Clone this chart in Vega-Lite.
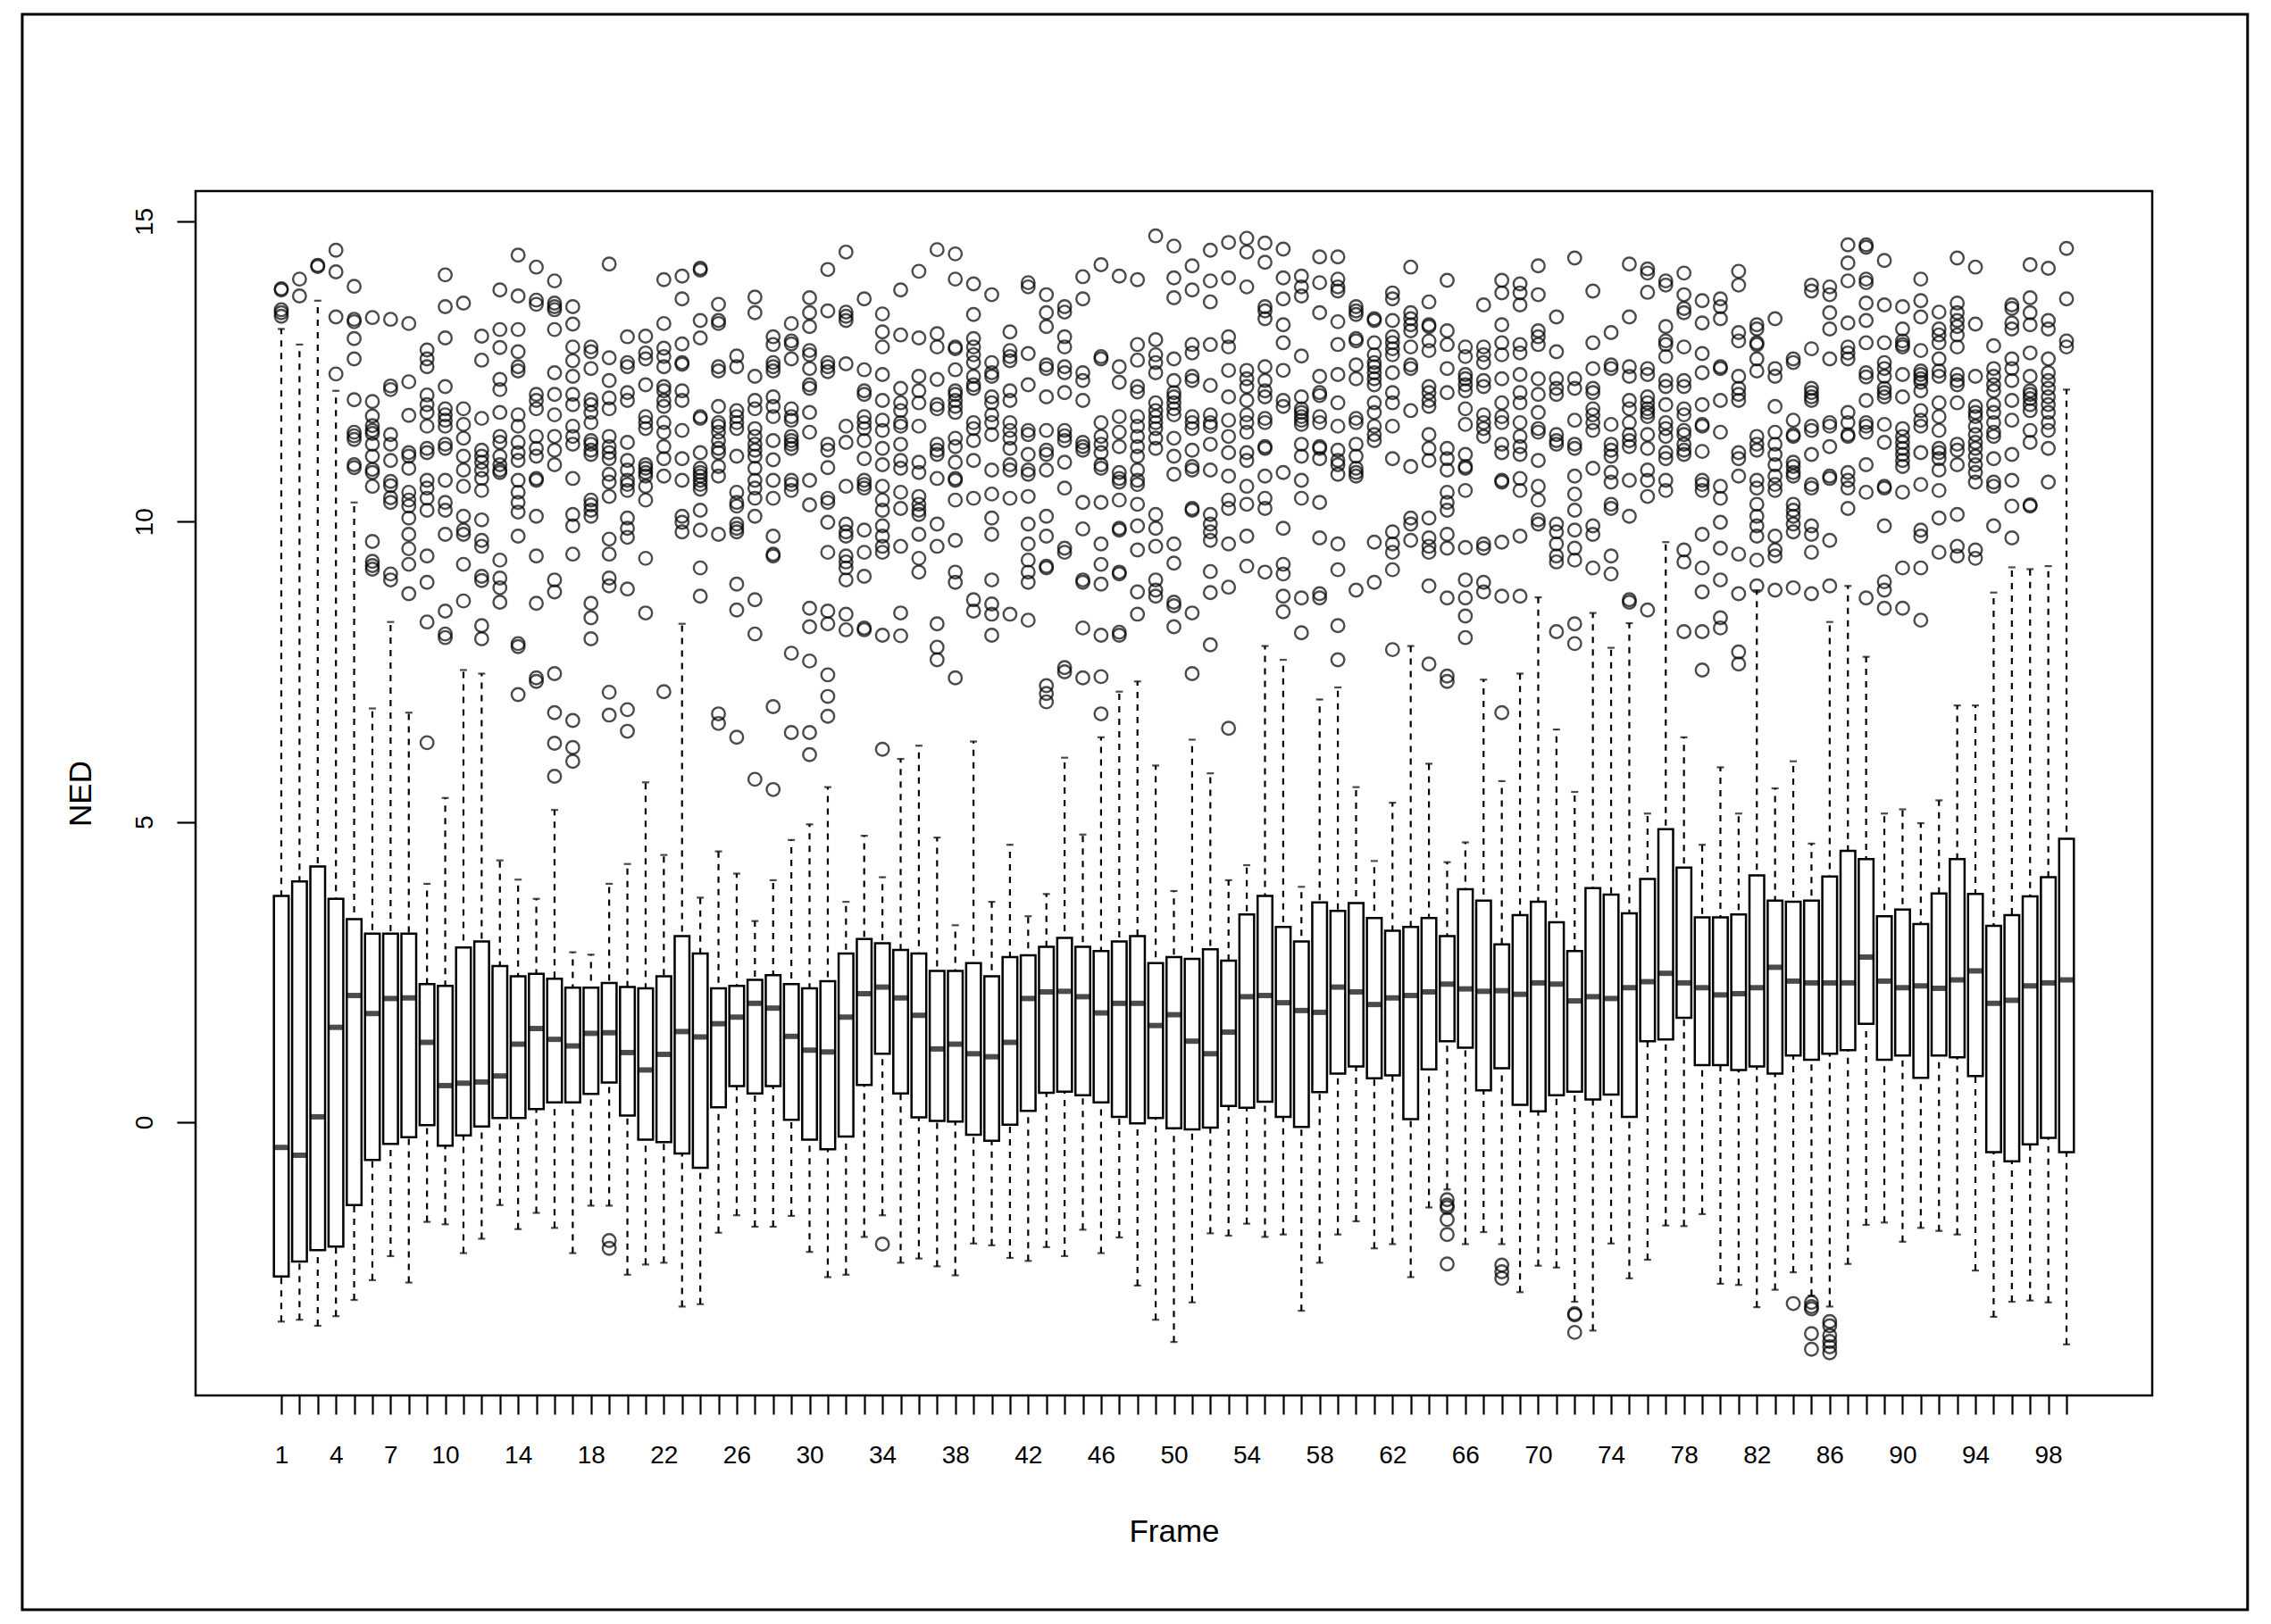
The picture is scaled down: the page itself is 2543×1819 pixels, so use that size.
{
"$schema":"https://vega.github.io/schema/vega-lite/v6.json",
"width":2191,"height":1349,
"autosize":{"type":"none"},
"padding":{"left":219,"top":214,"right":133,"bottom":256},
"background":"white",
"config":{"font":"Liberation Sans","view":{"stroke":"black","strokeWidth":2.5}},
"resolve":{"axis":{"x":"independent"}},
"datasets":{
"boxes":[
{"Frame":1,"lo":-3.32,"q1":-2.57,"med":-0.42,"q3":3.77,"hi":13.21},
{"Frame":2,"lo":-3.29,"q1":-2.32,"med":-0.55,"q3":4.01,"hi":12.95},
{"Frame":3,"lo":-3.39,"q1":-2.13,"med":0.09,"q3":4.26,"hi":13.68},
{"Frame":4,"lo":-3.23,"q1":-2.07,"med":1.58,"q3":3.72,"hi":12.18},
{"Frame":5,"lo":-2.96,"q1":-1.38,"med":2.11,"q3":3.38,"hi":10.32},
{"Frame":6,"lo":-2.63,"q1":-0.63,"med":1.81,"q3":3.14,"hi":6.89},
{"Frame":7,"lo":-2.23,"q1":-0.36,"med":2.06,"q3":3.14,"hi":8.33},
{"Frame":8,"lo":-2.67,"q1":-0.25,"med":2.07,"q3":3.14,"hi":6.82},
{"Frame":9,"lo":-1.66,"q1":-0.05,"med":1.33,"q3":2.30,"hi":3.97},
{"Frame":10,"lo":-1.70,"q1":-0.39,"med":0.61,"q3":2.27,"hi":5.40},
{"Frame":11,"lo":-2.18,"q1":-0.22,"med":0.65,"q3":2.91,"hi":7.53},
{"Frame":12,"lo":-1.94,"q1":-0.07,"med":0.67,"q3":3.01,"hi":7.47},
{"Frame":13,"lo":-1.38,"q1":0.07,"med":0.77,"q3":2.60,"hi":4.36},
{"Frame":14,"lo":-1.78,"q1":0.07,"med":1.30,"q3":2.43,"hi":4.04},
{"Frame":15,"lo":-1.51,"q1":0.22,"med":1.56,"q3":2.47,"hi":3.72},
{"Frame":16,"lo":-1.76,"q1":0.33,"med":1.38,"q3":2.39,"hi":5.20},
{"Frame":17,"lo":-2.18,"q1":0.33,"med":1.27,"q3":2.24,"hi":2.83},
{"Frame":18,"lo":-1.39,"q1":0.47,"med":1.48,"q3":2.24,"hi":2.79},
{"Frame":19,"lo":-1.39,"q1":0.66,"med":1.49,"q3":2.32,"hi":3.97},
{"Frame":20,"lo":-2.54,"q1":0.11,"med":1.16,"q3":2.25,"hi":4.30},
{"Frame":21,"lo":-2.37,"q1":-0.29,"med":0.87,"q3":2.23,"hi":5.66},
{"Frame":22,"lo":-2.34,"q1":-0.33,"med":1.13,"q3":2.43,"hi":4.45},
{"Frame":23,"lo":-3.07,"q1":-0.52,"med":1.51,"q3":3.10,"hi":8.30},
{"Frame":24,"lo":-3.03,"q1":-0.76,"med":1.42,"q3":2.81,"hi":3.74},
{"Frame":25,"lo":-1.84,"q1":0.25,"med":1.64,"q3":2.23,"hi":4.51},
{"Frame":26,"lo":-1.55,"q1":0.60,"med":1.75,"q3":2.27,"hi":4.14},
{"Frame":27,"lo":-1.74,"q1":0.48,"med":1.98,"q3":2.37,"hi":3.35},
{"Frame":28,"lo":-1.74,"q1":0.60,"med":1.90,"q3":2.45,"hi":4.03},
{"Frame":29,"lo":-1.56,"q1":0.04,"med":1.43,"q3":2.30,"hi":4.70},
{"Frame":30,"lo":-2.16,"q1":-0.29,"med":1.20,"q3":2.23,"hi":4.96},
{"Frame":31,"lo":-2.58,"q1":-0.45,"med":1.17,"q3":2.35,"hi":5.58},
{"Frame":32,"lo":-2.54,"q1":-0.24,"med":1.75,"q3":2.81,"hi":3.67},
{"Frame":33,"lo":-1.91,"q1":0.62,"med":2.14,"q3":3.05,"hi":4.77},
{"Frame":34,"lo":-1.55,"q1":1.14,"med":2.25,"q3":2.98,"hi":4.08},
{"Frame":35,"lo":-2.34,"q1":0.48,"med":2.07,"q3":2.87,"hi":6.05},
{"Frame":36,"lo":-2.27,"q1":0.08,"med":1.78,"q3":2.81,"hi":6.27},
{"Frame":37,"lo":-2.40,"q1":0.02,"med":1.22,"q3":2.52,"hi":4.74},
{"Frame":38,"lo":-2.55,"q1":0.01,"med":1.30,"q3":2.52,"hi":3.28},
{"Frame":39,"lo":-2.02,"q1":-0.21,"med":1.14,"q3":2.65,"hi":6.34},
{"Frame":40,"lo":-2.05,"q1":-0.31,"med":1.09,"q3":2.43,"hi":3.67},
{"Frame":41,"lo":-2.26,"q1":-0.04,"med":1.33,"q3":2.75,"hi":4.62},
{"Frame":42,"lo":-2.31,"q1":0.19,"med":2.06,"q3":2.78,"hi":3.43},
{"Frame":43,"lo":-2.08,"q1":0.49,"med":2.17,"q3":2.92,"hi":3.80},
{"Frame":44,"lo":-2.23,"q1":0.51,"med":2.18,"q3":3.07,"hi":6.07},
{"Frame":45,"lo":-1.79,"q1":0.45,"med":2.09,"q3":2.92,"hi":4.79},
{"Frame":46,"lo":-2.18,"q1":0.33,"med":1.82,"q3":2.85,"hi":6.41},
{"Frame":47,"lo":-1.92,"q1":0.09,"med":1.98,"q3":3.01,"hi":7.17},
{"Frame":48,"lo":-2.72,"q1":-0.02,"med":1.98,"q3":3.10,"hi":7.34},
{"Frame":49,"lo":-3.29,"q1":0.07,"med":1.61,"q3":2.65,"hi":5.94},
{"Frame":50,"lo":-3.66,"q1":-0.10,"med":1.79,"q3":2.75,"hi":3.85},
{"Frame":51,"lo":-3.00,"q1":-0.12,"med":1.35,"q3":2.72,"hi":6.37},
{"Frame":52,"lo":-1.85,"q1":-0.09,"med":1.14,"q3":2.88,"hi":5.81},
{"Frame":53,"lo":-1.89,"q1":0.27,"med":1.50,"q3":2.69,"hi":4.03},
{"Frame":54,"lo":-1.69,"q1":0.24,"med":2.09,"q3":3.46,"hi":4.28},
{"Frame":55,"lo":-1.91,"q1":0.34,"med":2.11,"q3":3.77,"hi":7.93},
{"Frame":56,"lo":-1.87,"q1":0.09,"med":1.99,"q3":3.25,"hi":7.70},
{"Frame":57,"lo":-3.14,"q1":-0.08,"med":1.86,"q3":3.01,"hi":3.92},
{"Frame":58,"lo":-2.34,"q1":0.50,"med":1.83,"q3":3.66,"hi":7.04},
{"Frame":59,"lo":-1.87,"q1":0.81,"med":2.25,"q3":3.52,"hi":7.24},
{"Frame":60,"lo":-1.65,"q1":0.93,"med":2.17,"q3":3.65,"hi":5.58},
{"Frame":61,"lo":-2.10,"q1":0.73,"med":1.96,"q3":3.40,"hi":4.35},
{"Frame":62,"lo":-2.03,"q1":0.78,"med":2.07,"q3":3.19,"hi":5.32},
{"Frame":63,"lo":-2.58,"q1":0.05,"med":2.11,"q3":3.25,"hi":7.93},
{"Frame":64,"lo":-1.42,"q1":0.88,"med":2.17,"q3":3.40,"hi":5.97},
{"Frame":65,"lo":-1.12,"q1":1.35,"med":2.30,"q3":3.10,"hi":4.33},
{"Frame":66,"lo":-2.03,"q1":1.24,"med":2.22,"q3":3.88,"hi":4.66},
{"Frame":67,"lo":-1.83,"q1":0.53,"med":2.18,"q3":3.69,"hi":7.37},
{"Frame":68,"lo":-2.03,"q1":0.90,"med":2.19,"q3":2.96,"hi":5.68},
{"Frame":69,"lo":-2.83,"q1":0.29,"med":2.13,"q3":3.45,"hi":7.47},
{"Frame":70,"lo":-2.39,"q1":0.18,"med":2.32,"q3":3.67,"hi":8.74},
{"Frame":71,"lo":-2.42,"q1":0.45,"med":2.30,"q3":3.33,"hi":6.54},
{"Frame":72,"lo":-2.99,"q1":0.51,"med":2.02,"q3":2.85,"hi":5.50},
{"Frame":73,"lo":-3.47,"q1":0.38,"med":2.09,"q3":3.90,"hi":8.48},
{"Frame":74,"lo":-2.02,"q1":0.46,"med":2.06,"q3":3.79,"hi":7.90},
{"Frame":75,"lo":-2.60,"q1":0.09,"med":2.24,"q3":3.48,"hi":8.31},
{"Frame":76,"lo":-2.29,"q1":1.35,"med":2.34,"q3":4.05,"hi":5.14},
{"Frame":77,"lo":-1.72,"q1":1.38,"med":2.48,"q3":4.88,"hi":9.66},
{"Frame":78,"lo":-1.73,"q1":1.74,"med":2.32,"q3":4.24,"hi":6.41},
{"Frame":79,"lo":-1.53,"q1":0.95,"med":2.24,"q3":3.41,"hi":4.62},
{"Frame":80,"lo":-2.69,"q1":0.95,"med":2.12,"q3":3.41,"hi":5.91},
{"Frame":81,"lo":-2.71,"q1":0.87,"med":2.14,"q3":3.46,"hi":5.14},
{"Frame":82,"lo":-3.08,"q1":0.93,"med":2.24,"q3":4.11,"hi":8.86},
{"Frame":83,"lo":-2.79,"q1":0.81,"med":2.58,"q3":3.69,"hi":5.56},
{"Frame":84,"lo":-2.50,"q1":1.11,"med":2.35,"q3":3.67,"hi":6.01},
{"Frame":85,"lo":-2.89,"q1":1.04,"med":2.32,"q3":3.69,"hi":4.64},
{"Frame":86,"lo":-3.07,"q1":1.14,"med":2.32,"q3":4.09,"hi":8.33},
{"Frame":87,"lo":-2.36,"q1":1.20,"med":2.32,"q3":4.52,"hi":8.93},
{"Frame":88,"lo":-1.71,"q1":1.64,"med":2.75,"q3":4.38,"hi":7.75},
{"Frame":89,"lo":-1.67,"q1":1.04,"med":2.35,"q3":3.43,"hi":5.14},
{"Frame":90,"lo":-1.99,"q1":1.11,"med":2.24,"q3":3.54,"hi":5.21},
{"Frame":91,"lo":-1.76,"q1":0.74,"med":2.27,"q3":3.30,"hi":4.98},
{"Frame":92,"lo":-1.81,"q1":1.11,"med":2.23,"q3":3.81,"hi":5.36},
{"Frame":93,"lo":-1.87,"q1":1.08,"med":2.37,"q3":4.38,"hi":6.94},
{"Frame":94,"lo":-2.47,"q1":0.77,"med":2.52,"q3":3.80,"hi":6.94},
{"Frame":95,"lo":-3.24,"q1":-0.50,"med":1.98,"q3":3.27,"hi":8.82},
{"Frame":96,"lo":-2.99,"q1":-0.65,"med":2.03,"q3":3.45,"hi":9.24},
{"Frame":97,"lo":-2.97,"q1":-0.37,"med":2.27,"q3":3.76,"hi":9.21},
{"Frame":98,"lo":-3.00,"q1":-0.26,"med":2.32,"q3":4.08,"hi":9.26},
{"Frame":99,"lo":-3.70,"q1":-0.50,"med":2.37,"q3":4.72,"hi":12.20}
],
"outliers":[
{"Frame":1,"NED":13.88},{"Frame":1,"NED":13.86},{"Frame":1,"NED":13.53},{"Frame":1,"NED":13.48},{"Frame":1,"NED":13.42},
{"Frame":2,"NED":14.04},{"Frame":2,"NED":13.76},
{"Frame":3,"NED":14.27},{"Frame":3,"NED":14.25},
{"Frame":4,"NED":14.52},{"Frame":4,"NED":14.16},{"Frame":4,"NED":13.41},{"Frame":4,"NED":12.46},
{"Frame":5,"NED":13.92},{"Frame":5,"NED":13.37},{"Frame":5,"NED":13.33},{"Frame":5,"NED":13.05},{"Frame":5,"NED":12.71},{"Frame":5,"NED":12.03},{"Frame":5,"NED":11.49},{"Frame":5,"NED":11.43},{"Frame":5,"NED":11.37},{"Frame":5,"NED":10.95},{"Frame":5,"NED":10.90},
{"Frame":6,"NED":13.40},{"Frame":6,"NED":12.00},{"Frame":6,"NED":11.76},{"Frame":6,"NED":11.60},{"Frame":6,"NED":11.52},{"Frame":6,"NED":11.47},{"Frame":6,"NED":11.29},{"Frame":6,"NED":11.09},{"Frame":6,"NED":10.87},{"Frame":6,"NED":10.82},{"Frame":6,"NED":10.59},{"Frame":6,"NED":9.67},{"Frame":6,"NED":9.34},{"Frame":6,"NED":9.27},{"Frame":6,"NED":9.21},
{"Frame":7,"NED":13.37},{"Frame":7,"NED":12.26},{"Frame":7,"NED":12.20},{"Frame":7,"NED":11.45},{"Frame":7,"NED":11.29},{"Frame":7,"NED":11.02},{"Frame":7,"NED":10.67},{"Frame":7,"NED":10.60},{"Frame":7,"NED":10.40},{"Frame":7,"NED":10.32},{"Frame":7,"NED":9.13},{"Frame":7,"NED":9.03},
{"Frame":8,"NED":13.30},{"Frame":8,"NED":12.33},{"Frame":8,"NED":11.77},{"Frame":8,"NED":11.15},{"Frame":8,"NED":11.09},{"Frame":8,"NED":10.89},{"Frame":8,"NED":10.49},{"Frame":8,"NED":10.36},{"Frame":8,"NED":10.26},{"Frame":8,"NED":10.06},{"Frame":8,"NED":9.79},{"Frame":8,"NED":9.55},{"Frame":8,"NED":9.29},{"Frame":8,"NED":8.80},
{"Frame":9,"NED":12.86},{"Frame":9,"NED":12.71},{"Frame":9,"NED":12.58},{"Frame":9,"NED":12.11},{"Frame":9,"NED":11.95},{"Frame":9,"NED":11.82},{"Frame":9,"NED":11.59},{"Frame":9,"NED":11.22},{"Frame":9,"NED":11.15},{"Frame":9,"NED":10.69},{"Frame":9,"NED":10.56},{"Frame":9,"NED":10.39},{"Frame":9,"NED":10.19},{"Frame":9,"NED":9.43},{"Frame":9,"NED":8.99},{"Frame":9,"NED":8.33},{"Frame":9,"NED":6.32},
{"Frame":10,"NED":14.11},{"Frame":10,"NED":13.58},{"Frame":10,"NED":13.06},{"Frame":10,"NED":12.25},{"Frame":10,"NED":11.88},{"Frame":10,"NED":11.78},{"Frame":10,"NED":11.69},{"Frame":10,"NED":11.59},{"Frame":10,"NED":11.29},{"Frame":10,"NED":11.22},{"Frame":10,"NED":10.69},{"Frame":10,"NED":10.32},{"Frame":10,"NED":10.19},{"Frame":10,"NED":9.79},{"Frame":10,"NED":8.51},{"Frame":10,"NED":8.13},{"Frame":10,"NED":8.07},
{"Frame":11,"NED":13.64},{"Frame":11,"NED":11.88},{"Frame":11,"NED":11.62},{"Frame":11,"NED":11.39},{"Frame":11,"NED":11.09},{"Frame":11,"NED":10.86},{"Frame":11,"NED":10.59},{"Frame":11,"NED":10.09},{"Frame":11,"NED":9.86},{"Frame":11,"NED":9.79},{"Frame":11,"NED":9.29},{"Frame":11,"NED":8.68},
{"Frame":12,"NED":13.09},{"Frame":12,"NED":12.69},{"Frame":12,"NED":11.72},{"Frame":12,"NED":11.19},{"Frame":12,"NED":11.09},{"Frame":12,"NED":10.99},{"Frame":12,"NED":10.86},{"Frame":12,"NED":10.72},{"Frame":12,"NED":10.52},{"Frame":12,"NED":10.03},{"Frame":12,"NED":9.69},{"Frame":12,"NED":9.59},{"Frame":12,"NED":9.09},{"Frame":12,"NED":9.02},{"Frame":12,"NED":8.27},{"Frame":12,"NED":8.05},
{"Frame":13,"NED":13.86},{"Frame":13,"NED":13.20},{"Frame":13,"NED":12.90},{"Frame":13,"NED":12.37},{"Frame":13,"NED":12.20},{"Frame":13,"NED":11.82},{"Frame":13,"NED":11.42},{"Frame":13,"NED":11.32},{"Frame":13,"NED":11.09},{"Frame":13,"NED":10.95},{"Frame":13,"NED":10.86},{"Frame":13,"NED":10.82},{"Frame":13,"NED":9.36},{"Frame":13,"NED":9.06},{"Frame":13,"NED":8.90},{"Frame":13,"NED":8.66},
{"Frame":14,"NED":14.44},{"Frame":14,"NED":13.76},{"Frame":14,"NED":13.20},{"Frame":14,"NED":12.83},{"Frame":14,"NED":12.58},{"Frame":14,"NED":12.51},{"Frame":14,"NED":11.78},{"Frame":14,"NED":11.59},{"Frame":14,"NED":11.32},{"Frame":14,"NED":11.15},{"Frame":14,"NED":11.02},{"Frame":14,"NED":10.69},{"Frame":14,"NED":10.49},{"Frame":14,"NED":10.32},{"Frame":14,"NED":10.16},{"Frame":14,"NED":9.76},{"Frame":14,"NED":7.97},{"Frame":14,"NED":7.92},{"Frame":14,"NED":7.12},
{"Frame":15,"NED":14.24},{"Frame":15,"NED":13.69},{"Frame":15,"NED":13.62},{"Frame":15,"NED":12.12},{"Frame":15,"NED":12.02},{"Frame":15,"NED":11.88},{"Frame":15,"NED":11.42},{"Frame":15,"NED":11.22},{"Frame":15,"NED":11.09},{"Frame":15,"NED":10.72},{"Frame":15,"NED":10.69},{"Frame":15,"NED":10.09},{"Frame":15,"NED":9.43},{"Frame":15,"NED":8.64},{"Frame":15,"NED":7.40},{"Frame":15,"NED":7.34},
{"Frame":16,"NED":14.01},{"Frame":16,"NED":13.64},{"Frame":16,"NED":13.58},{"Frame":16,"NED":13.53},{"Frame":16,"NED":13.20},{"Frame":16,"NED":12.48},{"Frame":16,"NED":12.12},{"Frame":16,"NED":11.78},{"Frame":16,"NED":11.42},{"Frame":16,"NED":11.19},{"Frame":16,"NED":10.95},{"Frame":16,"NED":9.03},{"Frame":16,"NED":8.83},{"Frame":16,"NED":7.47},{"Frame":16,"NED":6.82},{"Frame":16,"NED":6.31},{"Frame":16,"NED":5.76},
{"Frame":17,"NED":13.58},{"Frame":17,"NED":13.29},{"Frame":17,"NED":12.91},{"Frame":17,"NED":12.68},{"Frame":17,"NED":12.42},{"Frame":17,"NED":12.12},{"Frame":17,"NED":11.95},{"Frame":17,"NED":11.59},{"Frame":17,"NED":11.42},{"Frame":17,"NED":11.29},{"Frame":17,"NED":10.72},{"Frame":17,"NED":10.12},{"Frame":17,"NED":9.93},{"Frame":17,"NED":9.46},{"Frame":17,"NED":6.69},{"Frame":17,"NED":6.24},{"Frame":17,"NED":6.01},
{"Frame":18,"NED":12.91},{"Frame":18,"NED":12.83},{"Frame":18,"NED":12.55},{"Frame":18,"NED":12.03},{"Frame":18,"NED":11.95},{"Frame":18,"NED":11.82},{"Frame":18,"NED":11.65},{"Frame":18,"NED":11.35},{"Frame":18,"NED":11.29},{"Frame":18,"NED":11.19},{"Frame":18,"NED":11.12},{"Frame":18,"NED":10.36},{"Frame":18,"NED":10.28},{"Frame":18,"NED":10.19},{"Frame":18,"NED":10.09},{"Frame":18,"NED":8.64},{"Frame":18,"NED":8.40},{"Frame":18,"NED":8.05},
{"Frame":19,"NED":14.29},{"Frame":19,"NED":12.73},{"Frame":19,"NED":12.35},{"Frame":19,"NED":12.06},{"Frame":19,"NED":11.88},{"Frame":19,"NED":11.42},{"Frame":19,"NED":11.25},{"Frame":19,"NED":11.15},{"Frame":19,"NED":11.05},{"Frame":19,"NED":10.79},{"Frame":19,"NED":10.66},{"Frame":19,"NED":10.42},{"Frame":19,"NED":9.71},{"Frame":19,"NED":9.46},{"Frame":19,"NED":9.06},{"Frame":19,"NED":8.93},{"Frame":19,"NED":7.16},{"Frame":19,"NED":6.78},{"Frame":19,"NED":-1.97},{"Frame":19,"NED":-2.10},
{"Frame":20,"NED":13.08},{"Frame":20,"NED":12.65},{"Frame":20,"NED":12.58},{"Frame":20,"NED":12.15},{"Frame":20,"NED":12.02},{"Frame":20,"NED":11.32},{"Frame":20,"NED":11.02},{"Frame":20,"NED":10.86},{"Frame":20,"NED":10.69},{"Frame":20,"NED":10.62},{"Frame":20,"NED":10.52},{"Frame":20,"NED":10.06},{"Frame":20,"NED":9.89},{"Frame":20,"NED":9.74},{"Frame":20,"NED":8.88},{"Frame":20,"NED":6.87},{"Frame":20,"NED":6.51},
{"Frame":21,"NED":13.09},{"Frame":21,"NED":12.81},{"Frame":21,"NED":12.71},{"Frame":21,"NED":12.28},{"Frame":21,"NED":11.75},{"Frame":21,"NED":11.65},{"Frame":21,"NED":11.55},{"Frame":21,"NED":10.95},{"Frame":21,"NED":10.89},{"Frame":21,"NED":10.82},{"Frame":21,"NED":10.76},{"Frame":21,"NED":10.59},{"Frame":21,"NED":10.36},{"Frame":21,"NED":9.39},{"Frame":21,"NED":8.48},
{"Frame":22,"NED":14.03},{"Frame":22,"NED":13.30},{"Frame":22,"NED":12.89},{"Frame":22,"NED":12.75},{"Frame":22,"NED":12.58},{"Frame":22,"NED":12.25},{"Frame":22,"NED":12.18},{"Frame":22,"NED":12.02},{"Frame":22,"NED":11.92},{"Frame":22,"NED":11.65},{"Frame":22,"NED":11.49},{"Frame":22,"NED":11.25},{"Frame":22,"NED":11.05},{"Frame":22,"NED":10.76},{"Frame":22,"NED":7.17},
{"Frame":23,"NED":14.09},{"Frame":23,"NED":13.71},{"Frame":23,"NED":12.96},{"Frame":23,"NED":12.65},{"Frame":23,"NED":12.62},{"Frame":23,"NED":12.18},{"Frame":23,"NED":12.02},{"Frame":23,"NED":11.52},{"Frame":23,"NED":11.05},{"Frame":23,"NED":10.69},{"Frame":23,"NED":10.09},{"Frame":23,"NED":9.99},{"Frame":23,"NED":9.83},
{"Frame":24,"NED":14.22},{"Frame":24,"NED":14.19},{"Frame":24,"NED":13.35},{"Frame":24,"NED":13.06},{"Frame":24,"NED":11.75},{"Frame":24,"NED":11.72},{"Frame":24,"NED":11.15},{"Frame":24,"NED":10.89},{"Frame":24,"NED":10.82},{"Frame":24,"NED":10.76},{"Frame":24,"NED":10.69},{"Frame":24,"NED":10.62},{"Frame":24,"NED":10.54},{"Frame":24,"NED":10.19},{"Frame":24,"NED":9.86},{"Frame":24,"NED":9.23},{"Frame":24,"NED":8.76},
{"Frame":25,"NED":13.62},{"Frame":25,"NED":13.35},{"Frame":25,"NED":13.30},{"Frame":25,"NED":12.58},{"Frame":25,"NED":12.51},{"Frame":25,"NED":11.92},{"Frame":25,"NED":11.65},{"Frame":25,"NED":11.59},{"Frame":25,"NED":11.49},{"Frame":25,"NED":11.35},{"Frame":25,"NED":11.22},{"Frame":25,"NED":11.15},{"Frame":25,"NED":10.92},{"Frame":25,"NED":10.76},{"Frame":25,"NED":9.79},{"Frame":25,"NED":6.80},{"Frame":25,"NED":6.64},
{"Frame":26,"NED":12.76},{"Frame":26,"NED":12.58},{"Frame":26,"NED":11.85},{"Frame":26,"NED":11.75},{"Frame":26,"NED":11.65},{"Frame":26,"NED":11.55},{"Frame":26,"NED":11.09},{"Frame":26,"NED":10.49},{"Frame":26,"NED":10.32},{"Frame":26,"NED":10.26},{"Frame":26,"NED":9.96},{"Frame":26,"NED":9.89},{"Frame":26,"NED":9.83},{"Frame":26,"NED":8.96},{"Frame":26,"NED":8.53},{"Frame":26,"NED":6.41},
{"Frame":27,"NED":13.74},{"Frame":27,"NED":13.48},{"Frame":27,"NED":12.42},{"Frame":27,"NED":12.02},{"Frame":27,"NED":11.88},{"Frame":27,"NED":11.55},{"Frame":27,"NED":11.42},{"Frame":27,"NED":11.29},{"Frame":27,"NED":11.19},{"Frame":27,"NED":11.09},{"Frame":27,"NED":10.89},{"Frame":27,"NED":10.69},{"Frame":27,"NED":10.56},{"Frame":27,"NED":10.39},{"Frame":27,"NED":10.09},{"Frame":27,"NED":8.70},{"Frame":27,"NED":8.13},{"Frame":27,"NED":5.71},
{"Frame":28,"NED":13.08},{"Frame":28,"NED":12.95},{"Frame":28,"NED":12.65},{"Frame":28,"NED":12.58},{"Frame":28,"NED":12.51},{"Frame":28,"NED":12.08},{"Frame":28,"NED":11.92},{"Frame":28,"NED":11.75},{"Frame":28,"NED":11.35},{"Frame":28,"NED":11.03},{"Frame":28,"NED":10.69},{"Frame":28,"NED":10.39},{"Frame":28,"NED":9.76},{"Frame":28,"NED":9.46},{"Frame":28,"NED":9.43},{"Frame":28,"NED":6.92},{"Frame":28,"NED":5.54},
{"Frame":29,"NED":13.30},{"Frame":29,"NED":13.01},{"Frame":29,"NED":12.96},{"Frame":29,"NED":12.71},{"Frame":29,"NED":11.88},{"Frame":29,"NED":11.75},{"Frame":29,"NED":11.69},{"Frame":29,"NED":11.42},{"Frame":29,"NED":11.35},{"Frame":29,"NED":11.29},{"Frame":29,"NED":11.22},{"Frame":29,"NED":10.69},{"Frame":29,"NED":10.62},{"Frame":29,"NED":10.52},{"Frame":29,"NED":7.81},{"Frame":29,"NED":6.49},
{"Frame":30,"NED":13.73},{"Frame":30,"NED":13.48},{"Frame":30,"NED":13.25},{"Frame":30,"NED":12.85},{"Frame":30,"NED":12.78},{"Frame":30,"NED":12.55},{"Frame":30,"NED":12.28},{"Frame":30,"NED":12.22},{"Frame":30,"NED":11.82},{"Frame":30,"NED":11.49},{"Frame":30,"NED":10.69},{"Frame":30,"NED":10.28},{"Frame":30,"NED":8.56},{"Frame":30,"NED":8.25},{"Frame":30,"NED":7.68},{"Frame":30,"NED":6.49},{"Frame":30,"NED":6.12},
{"Frame":31,"NED":14.20},{"Frame":31,"NED":13.51},{"Frame":31,"NED":12.65},{"Frame":31,"NED":12.58},{"Frame":31,"NED":12.50},{"Frame":31,"NED":11.29},{"Frame":31,"NED":11.19},{"Frame":31,"NED":10.90},{"Frame":31,"NED":10.39},{"Frame":31,"NED":10.32},{"Frame":31,"NED":9.99},{"Frame":31,"NED":9.49},{"Frame":31,"NED":8.51},{"Frame":31,"NED":8.30},{"Frame":31,"NED":7.45},{"Frame":31,"NED":7.09},{"Frame":31,"NED":6.76},
{"Frame":32,"NED":14.49},{"Frame":32,"NED":13.49},{"Frame":32,"NED":13.42},{"Frame":32,"NED":13.35},{"Frame":32,"NED":12.63},{"Frame":32,"NED":11.59},{"Frame":32,"NED":11.32},{"Frame":32,"NED":10.59},{"Frame":32,"NED":9.96},{"Frame":32,"NED":9.83},{"Frame":32,"NED":9.76},{"Frame":32,"NED":9.43},{"Frame":32,"NED":9.33},{"Frame":32,"NED":9.23},{"Frame":32,"NED":9.03},{"Frame":32,"NED":8.46},{"Frame":32,"NED":8.20},
{"Frame":33,"NED":13.71},{"Frame":33,"NED":12.53},{"Frame":33,"NED":12.18},{"Frame":33,"NED":12.12},{"Frame":33,"NED":11.75},{"Frame":33,"NED":11.65},{"Frame":33,"NED":11.55},{"Frame":33,"NED":11.35},{"Frame":33,"NED":11.05},{"Frame":33,"NED":10.69},{"Frame":33,"NED":10.62},{"Frame":33,"NED":10.56},{"Frame":33,"NED":9.86},{"Frame":33,"NED":9.49},{"Frame":33,"NED":9.09},{"Frame":33,"NED":8.23},{"Frame":33,"NED":8.20},
{"Frame":34,"NED":13.46},{"Frame":34,"NED":13.16},{"Frame":34,"NED":12.91},{"Frame":34,"NED":12.45},{"Frame":34,"NED":12.02},{"Frame":34,"NED":11.69},{"Frame":34,"NED":11.52},{"Frame":34,"NED":11.22},{"Frame":34,"NED":10.95},{"Frame":34,"NED":10.59},{"Frame":34,"NED":10.36},{"Frame":34,"NED":10.19},{"Frame":34,"NED":9.93},{"Frame":34,"NED":9.76},{"Frame":34,"NED":9.59},{"Frame":34,"NED":9.49},{"Frame":34,"NED":8.11},{"Frame":34,"NED":6.21},{"Frame":34,"NED":-2.03},
{"Frame":35,"NED":13.86},{"Frame":35,"NED":13.11},{"Frame":35,"NED":12.22},{"Frame":35,"NED":11.98},{"Frame":35,"NED":11.85},{"Frame":35,"NED":11.65},{"Frame":35,"NED":11.59},{"Frame":35,"NED":11.29},{"Frame":35,"NED":11.02},{"Frame":35,"NED":10.89},{"Frame":35,"NED":10.49},{"Frame":35,"NED":10.22},{"Frame":35,"NED":9.59},{"Frame":35,"NED":8.48},{"Frame":35,"NED":8.10},
{"Frame":36,"NED":14.17},{"Frame":36,"NED":13.06},{"Frame":36,"NED":12.42},{"Frame":36,"NED":12.18},{"Frame":36,"NED":11.98},{"Frame":36,"NED":11.59},{"Frame":36,"NED":10.99},{"Frame":36,"NED":10.82},{"Frame":36,"NED":10.42},{"Frame":36,"NED":10.29},{"Frame":36,"NED":10.19},{"Frame":36,"NED":10.12},{"Frame":36,"NED":9.79},{"Frame":36,"NED":9.39},{"Frame":36,"NED":9.16},
{"Frame":37,"NED":14.53},{"Frame":37,"NED":13.13},{"Frame":37,"NED":12.91},{"Frame":37,"NED":12.37},{"Frame":37,"NED":11.95},{"Frame":37,"NED":11.88},{"Frame":37,"NED":11.29},{"Frame":37,"NED":11.19},{"Frame":37,"NED":11.12},{"Frame":37,"NED":10.72},{"Frame":37,"NED":9.96},{"Frame":37,"NED":9.59},{"Frame":37,"NED":8.30},{"Frame":37,"NED":7.91},{"Frame":37,"NED":7.70},
{"Frame":38,"NED":14.46},{"Frame":38,"NED":14.04},{"Frame":38,"NED":12.91},{"Frame":38,"NED":12.88},{"Frame":38,"NED":12.53},{"Frame":38,"NED":12.18},{"Frame":38,"NED":12.12},{"Frame":38,"NED":12.02},{"Frame":38,"NED":11.92},{"Frame":38,"NED":11.82},{"Frame":38,"NED":11.39},{"Frame":38,"NED":11.25},{"Frame":38,"NED":10.99},{"Frame":38,"NED":10.72},{"Frame":38,"NED":10.69},{"Frame":38,"NED":10.36},{"Frame":38,"NED":9.69},{"Frame":38,"NED":9.16},{"Frame":38,"NED":8.99},{"Frame":38,"NED":7.40},
{"Frame":39,"NED":13.96},{"Frame":39,"NED":13.45},{"Frame":39,"NED":13.05},{"Frame":39,"NED":12.91},{"Frame":39,"NED":12.78},{"Frame":39,"NED":12.65},{"Frame":39,"NED":12.42},{"Frame":39,"NED":12.28},{"Frame":39,"NED":12.22},{"Frame":39,"NED":11.65},{"Frame":39,"NED":11.55},{"Frame":39,"NED":11.35},{"Frame":39,"NED":11.02},{"Frame":39,"NED":10.39},{"Frame":39,"NED":8.70},{"Frame":39,"NED":8.51},
{"Frame":40,"NED":13.78},{"Frame":40,"NED":12.65},{"Frame":40,"NED":12.48},{"Frame":40,"NED":12.42},{"Frame":40,"NED":12.08},{"Frame":40,"NED":11.98},{"Frame":40,"NED":11.78},{"Frame":40,"NED":11.65},{"Frame":40,"NED":11.45},{"Frame":40,"NED":10.86},{"Frame":40,"NED":10.46},{"Frame":40,"NED":10.06},{"Frame":40,"NED":9.79},{"Frame":40,"NED":9.03},{"Frame":40,"NED":8.63},{"Frame":40,"NED":8.46},{"Frame":40,"NED":8.11},
{"Frame":41,"NED":13.16},{"Frame":41,"NED":12.85},{"Frame":41,"NED":12.75},{"Frame":41,"NED":12.68},{"Frame":41,"NED":12.18},{"Frame":41,"NED":12.02},{"Frame":41,"NED":11.65},{"Frame":41,"NED":11.52},{"Frame":41,"NED":11.39},{"Frame":41,"NED":11.22},{"Frame":41,"NED":10.95},{"Frame":41,"NED":10.86},{"Frame":41,"NED":10.39},{"Frame":41,"NED":8.46},
{"Frame":42,"NED":13.98},{"Frame":42,"NED":13.91},{"Frame":42,"NED":12.80},{"Frame":42,"NED":12.28},{"Frame":42,"NED":11.52},{"Frame":42,"NED":11.45},{"Frame":42,"NED":11.12},{"Frame":42,"NED":10.86},{"Frame":42,"NED":10.79},{"Frame":42,"NED":10.42},{"Frame":42,"NED":9.96},{"Frame":42,"NED":9.63},{"Frame":42,"NED":9.36},{"Frame":42,"NED":9.16},{"Frame":42,"NED":8.99},{"Frame":42,"NED":8.36},
{"Frame":43,"NED":13.78},{"Frame":43,"NED":13.48},{"Frame":43,"NED":13.25},{"Frame":43,"NED":12.61},{"Frame":43,"NED":12.55},{"Frame":43,"NED":12.08},{"Frame":43,"NED":11.52},{"Frame":43,"NED":11.19},{"Frame":43,"NED":11.12},{"Frame":43,"NED":10.86},{"Frame":43,"NED":10.09},{"Frame":43,"NED":9.76},{"Frame":43,"NED":9.26},{"Frame":43,"NED":9.23},{"Frame":43,"NED":7.27},{"Frame":43,"NED":7.14},{"Frame":43,"NED":7.00},
{"Frame":44,"NED":13.58},{"Frame":44,"NED":13.49},{"Frame":44,"NED":13.08},{"Frame":44,"NED":12.91},{"Frame":44,"NED":12.58},{"Frame":44,"NED":12.48},{"Frame":44,"NED":12.15},{"Frame":44,"NED":11.52},{"Frame":44,"NED":11.43},{"Frame":44,"NED":11.35},{"Frame":44,"NED":10.99},{"Frame":44,"NED":10.56},{"Frame":44,"NED":9.56},{"Frame":44,"NED":9.49},{"Frame":44,"NED":7.57},{"Frame":44,"NED":7.50},
{"Frame":45,"NED":14.08},{"Frame":45,"NED":13.71},{"Frame":45,"NED":12.48},{"Frame":45,"NED":12.35},{"Frame":45,"NED":12.02},{"Frame":45,"NED":11.32},{"Frame":45,"NED":11.25},{"Frame":45,"NED":11.19},{"Frame":45,"NED":10.32},{"Frame":45,"NED":9.88},{"Frame":45,"NED":9.03},{"Frame":45,"NED":8.99},{"Frame":45,"NED":8.23},{"Frame":45,"NED":7.40},
{"Frame":46,"NED":14.28},{"Frame":46,"NED":12.75},{"Frame":46,"NED":12.71},{"Frame":46,"NED":11.65},{"Frame":46,"NED":11.42},{"Frame":46,"NED":11.29},{"Frame":46,"NED":11.15},{"Frame":46,"NED":10.95},{"Frame":46,"NED":10.89},{"Frame":46,"NED":10.32},{"Frame":46,"NED":9.63},{"Frame":46,"NED":9.29},{"Frame":46,"NED":8.96},{"Frame":46,"NED":8.11},{"Frame":46,"NED":7.42},{"Frame":46,"NED":6.80},
{"Frame":47,"NED":14.09},{"Frame":47,"NED":12.58},{"Frame":47,"NED":12.32},{"Frame":47,"NED":11.75},{"Frame":47,"NED":11.49},{"Frame":47,"NED":11.25},{"Frame":47,"NED":10.82},{"Frame":47,"NED":10.72},{"Frame":47,"NED":10.66},{"Frame":47,"NED":10.36},{"Frame":47,"NED":9.89},{"Frame":47,"NED":9.86},{"Frame":47,"NED":9.16},{"Frame":47,"NED":9.13},{"Frame":47,"NED":8.16},{"Frame":47,"NED":8.11},
{"Frame":48,"NED":14.03},{"Frame":48,"NED":12.95},{"Frame":48,"NED":12.69},{"Frame":48,"NED":12.25},{"Frame":48,"NED":12.16},{"Frame":48,"NED":11.75},{"Frame":48,"NED":11.59},{"Frame":48,"NED":11.42},{"Frame":48,"NED":11.25},{"Frame":48,"NED":11.09},{"Frame":48,"NED":10.86},{"Frame":48,"NED":10.69},{"Frame":48,"NED":10.62},{"Frame":48,"NED":10.29},{"Frame":48,"NED":9.93},{"Frame":48,"NED":9.53},{"Frame":48,"NED":8.83},{"Frame":48,"NED":8.46},
{"Frame":49,"NED":14.76},{"Frame":49,"NED":13.03},{"Frame":49,"NED":12.78},{"Frame":49,"NED":12.65},{"Frame":49,"NED":12.48},{"Frame":49,"NED":11.98},{"Frame":49,"NED":11.85},{"Frame":49,"NED":11.75},{"Frame":49,"NED":11.65},{"Frame":49,"NED":11.55},{"Frame":49,"NED":11.39},{"Frame":49,"NED":11.22},{"Frame":49,"NED":10.12},{"Frame":49,"NED":9.89},{"Frame":49,"NED":9.59},{"Frame":49,"NED":9.03},{"Frame":49,"NED":8.86},{"Frame":49,"NED":8.76},
{"Frame":50,"NED":14.59},{"Frame":50,"NED":14.06},{"Frame":50,"NED":13.73},{"Frame":50,"NED":12.71},{"Frame":50,"NED":12.35},{"Frame":50,"NED":12.15},{"Frame":50,"NED":12.08},{"Frame":50,"NED":11.98},{"Frame":50,"NED":11.88},{"Frame":50,"NED":11.78},{"Frame":50,"NED":11.39},{"Frame":50,"NED":11.09},{"Frame":50,"NED":10.79},{"Frame":50,"NED":9.63},{"Frame":50,"NED":9.31},{"Frame":50,"NED":8.66},{"Frame":50,"NED":8.60},{"Frame":50,"NED":8.25},
{"Frame":51,"NED":14.26},{"Frame":51,"NED":13.86},{"Frame":51,"NED":12.95},{"Frame":51,"NED":12.81},{"Frame":51,"NED":12.42},{"Frame":51,"NED":12.35},{"Frame":51,"NED":11.75},{"Frame":51,"NED":11.65},{"Frame":51,"NED":11.55},{"Frame":51,"NED":11.19},{"Frame":51,"NED":10.92},{"Frame":51,"NED":10.86},{"Frame":51,"NED":10.22},{"Frame":51,"NED":10.19},{"Frame":51,"NED":8.48},{"Frame":51,"NED":7.47},
{"Frame":52,"NED":14.52},{"Frame":52,"NED":14.01},{"Frame":52,"NED":13.66},{"Frame":52,"NED":12.95},{"Frame":52,"NED":12.27},{"Frame":52,"NED":11.78},{"Frame":52,"NED":11.65},{"Frame":52,"NED":11.59},{"Frame":52,"NED":11.29},{"Frame":52,"NED":10.86},{"Frame":52,"NED":10.12},{"Frame":52,"NED":9.96},{"Frame":52,"NED":9.83},{"Frame":52,"NED":9.69},{"Frame":52,"NED":9.17},{"Frame":52,"NED":8.82},{"Frame":52,"NED":7.95},
{"Frame":53,"NED":14.65},{"Frame":53,"NED":14.06},{"Frame":53,"NED":13.08},{"Frame":53,"NED":12.91},{"Frame":53,"NED":12.52},{"Frame":53,"NED":12.08},{"Frame":53,"NED":11.69},{"Frame":53,"NED":11.42},{"Frame":53,"NED":11.15},{"Frame":53,"NED":10.76},{"Frame":53,"NED":10.36},{"Frame":53,"NED":10.22},{"Frame":53,"NED":9.63},{"Frame":53,"NED":8.91},{"Frame":53,"NED":6.56},
{"Frame":54,"NED":14.72},{"Frame":54,"NED":14.49},{"Frame":54,"NED":13.91},{"Frame":54,"NED":12.52},{"Frame":54,"NED":12.38},{"Frame":54,"NED":12.25},{"Frame":54,"NED":12.02},{"Frame":54,"NED":11.78},{"Frame":54,"NED":11.65},{"Frame":54,"NED":11.49},{"Frame":54,"NED":11.15},{"Frame":54,"NED":11.02},{"Frame":54,"NED":10.59},{"Frame":54,"NED":10.29},{"Frame":54,"NED":9.76},{"Frame":54,"NED":9.26},
{"Frame":55,"NED":14.64},{"Frame":55,"NED":14.32},{"Frame":55,"NED":13.58},{"Frame":55,"NED":13.51},{"Frame":55,"NED":13.38},{"Frame":55,"NED":12.58},{"Frame":55,"NED":12.35},{"Frame":55,"NED":12.18},{"Frame":55,"NED":12.08},{"Frame":55,"NED":11.72},{"Frame":55,"NED":11.65},{"Frame":55,"NED":11.25},{"Frame":55,"NED":11.22},{"Frame":55,"NED":10.76},{"Frame":55,"NED":10.39},{"Frame":55,"NED":10.22},{"Frame":55,"NED":9.16},
{"Frame":56,"NED":14.54},{"Frame":56,"NED":14.06},{"Frame":56,"NED":13.71},{"Frame":56,"NED":13.28},{"Frame":56,"NED":12.98},{"Frame":56,"NED":12.52},{"Frame":56,"NED":12.02},{"Frame":56,"NED":11.92},{"Frame":56,"NED":10.82},{"Frame":56,"NED":9.89},{"Frame":56,"NED":9.29},{"Frame":56,"NED":9.13},{"Frame":56,"NED":8.76},{"Frame":56,"NED":8.50},
{"Frame":57,"NED":14.09},{"Frame":57,"NED":13.91},{"Frame":57,"NED":13.76},{"Frame":57,"NED":12.76},{"Frame":57,"NED":12.08},{"Frame":57,"NED":11.88},{"Frame":57,"NED":11.82},{"Frame":57,"NED":11.75},{"Frame":57,"NED":11.69},{"Frame":57,"NED":11.62},{"Frame":57,"NED":11.29},{"Frame":57,"NED":11.09},{"Frame":57,"NED":10.69},{"Frame":57,"NED":10.39},{"Frame":57,"NED":8.73},{"Frame":57,"NED":8.15},
{"Frame":58,"NED":14.41},{"Frame":58,"NED":13.98},{"Frame":58,"NED":13.48},{"Frame":58,"NED":12.42},{"Frame":58,"NED":12.15},{"Frame":58,"NED":12.10},{"Frame":58,"NED":11.75},{"Frame":58,"NED":11.65},{"Frame":58,"NED":11.25},{"Frame":58,"NED":11.22},{"Frame":58,"NED":11.05},{"Frame":58,"NED":10.32},{"Frame":58,"NED":9.73},{"Frame":58,"NED":8.80},{"Frame":58,"NED":8.73},
{"Frame":59,"NED":14.41},{"Frame":59,"NED":14.04},{"Frame":59,"NED":13.91},{"Frame":59,"NED":13.84},{"Frame":59,"NED":13.33},{"Frame":59,"NED":12.95},{"Frame":59,"NED":12.45},{"Frame":59,"NED":11.98},{"Frame":59,"NED":11.59},{"Frame":59,"NED":11.19},{"Frame":59,"NED":11.02},{"Frame":59,"NED":10.95},{"Frame":59,"NED":10.79},{"Frame":59,"NED":9.63},{"Frame":59,"NED":9.20},{"Frame":59,"NED":8.27},{"Frame":59,"NED":7.70},
{"Frame":60,"NED":13.58},{"Frame":60,"NED":13.51},{"Frame":60,"NED":13.45},{"Frame":60,"NED":13.05},{"Frame":60,"NED":13.01},{"Frame":60,"NED":12.61},{"Frame":60,"NED":12.38},{"Frame":60,"NED":11.72},{"Frame":60,"NED":11.65},{"Frame":60,"NED":11.29},{"Frame":60,"NED":11.09},{"Frame":60,"NED":10.89},{"Frame":60,"NED":10.82},{"Frame":60,"NED":10.76},{"Frame":60,"NED":8.86},
{"Frame":61,"NED":13.38},{"Frame":61,"NED":13.35},{"Frame":61,"NED":12.98},{"Frame":61,"NED":12.78},{"Frame":61,"NED":12.65},{"Frame":61,"NED":12.58},{"Frame":61,"NED":12.48},{"Frame":61,"NED":12.38},{"Frame":61,"NED":12.28},{"Frame":61,"NED":11.98},{"Frame":61,"NED":11.82},{"Frame":61,"NED":11.59},{"Frame":61,"NED":11.45},{"Frame":61,"NED":11.35},{"Frame":61,"NED":9.66},{"Frame":61,"NED":8.99},
{"Frame":62,"NED":13.81},{"Frame":62,"NED":13.71},{"Frame":62,"NED":13.35},{"Frame":62,"NED":13.08},{"Frame":62,"NED":12.98},{"Frame":62,"NED":12.88},{"Frame":62,"NED":12.78},{"Frame":62,"NED":12.48},{"Frame":62,"NED":12.15},{"Frame":62,"NED":11.98},{"Frame":62,"NED":11.59},{"Frame":62,"NED":11.05},{"Frame":62,"NED":9.83},{"Frame":62,"NED":9.63},{"Frame":62,"NED":9.49},{"Frame":62,"NED":9.20},{"Frame":62,"NED":7.87},
{"Frame":63,"NED":14.24},{"Frame":63,"NED":13.48},{"Frame":63,"NED":13.38},{"Frame":63,"NED":13.28},{"Frame":63,"NED":13.18},{"Frame":63,"NED":12.91},{"Frame":63,"NED":12.61},{"Frame":63,"NED":12.55},{"Frame":63,"NED":11.85},{"Frame":63,"NED":10.92},{"Frame":63,"NED":10.06},{"Frame":63,"NED":9.96},{"Frame":63,"NED":9.69},
{"Frame":64,"NED":13.66},{"Frame":64,"NED":13.28},{"Frame":64,"NED":13.25},{"Frame":64,"NED":13.01},{"Frame":64,"NED":12.85},{"Frame":64,"NED":12.25},{"Frame":64,"NED":12.15},{"Frame":64,"NED":12.02},{"Frame":64,"NED":11.92},{"Frame":64,"NED":11.45},{"Frame":64,"NED":11.22},{"Frame":64,"NED":11.02},{"Frame":64,"NED":10.06},{"Frame":64,"NED":9.73},{"Frame":64,"NED":9.59},{"Frame":64,"NED":9.49},{"Frame":64,"NED":8.93},{"Frame":64,"NED":7.63},
{"Frame":65,"NED":14.02},{"Frame":65,"NED":13.18},{"Frame":65,"NED":12.95},{"Frame":65,"NED":12.55},{"Frame":65,"NED":12.15},{"Frame":65,"NED":11.22},{"Frame":65,"NED":11.05},{"Frame":65,"NED":10.86},{"Frame":65,"NED":10.49},{"Frame":65,"NED":10.32},{"Frame":65,"NED":10.19},{"Frame":65,"NED":9.79},{"Frame":65,"NED":9.56},{"Frame":65,"NED":8.73},{"Frame":65,"NED":7.43},{"Frame":65,"NED":7.34},{"Frame":65,"NED":-1.29},{"Frame":65,"NED":-1.38},{"Frame":65,"NED":-1.42},{"Frame":65,"NED":-1.62},{"Frame":65,"NED":-1.87},{"Frame":65,"NED":-2.36},
{"Frame":66,"NED":12.91},{"Frame":66,"NED":12.75},{"Frame":66,"NED":12.45},{"Frame":66,"NED":12.38},{"Frame":66,"NED":12.28},{"Frame":66,"NED":12.18},{"Frame":66,"NED":11.88},{"Frame":66,"NED":11.62},{"Frame":66,"NED":11.12},{"Frame":66,"NED":10.92},{"Frame":66,"NED":10.89},{"Frame":66,"NED":10.52},{"Frame":66,"NED":9.57},{"Frame":66,"NED":9.03},{"Frame":66,"NED":8.73},{"Frame":66,"NED":8.43},{"Frame":66,"NED":8.07},
{"Frame":67,"NED":13.61},{"Frame":67,"NED":12.91},{"Frame":67,"NED":12.78},{"Frame":67,"NED":12.65},{"Frame":67,"NED":12.35},{"Frame":67,"NED":12.25},{"Frame":67,"NED":11.78},{"Frame":67,"NED":11.65},{"Frame":67,"NED":11.55},{"Frame":67,"NED":11.42},{"Frame":67,"NED":9.63},{"Frame":67,"NED":9.56},{"Frame":67,"NED":8.99},{"Frame":67,"NED":8.83},
{"Frame":68,"NED":14.02},{"Frame":68,"NED":13.81},{"Frame":68,"NED":13.28},{"Frame":68,"NED":12.98},{"Frame":68,"NED":12.78},{"Frame":68,"NED":12.38},{"Frame":68,"NED":11.98},{"Frame":68,"NED":11.75},{"Frame":68,"NED":11.65},{"Frame":68,"NED":11.29},{"Frame":68,"NED":11.15},{"Frame":68,"NED":10.69},{"Frame":68,"NED":10.66},{"Frame":68,"NED":9.66},{"Frame":68,"NED":8.76},{"Frame":68,"NED":6.82},{"Frame":68,"NED":-2.38},{"Frame":68,"NED":-2.49},{"Frame":68,"NED":-2.60},
{"Frame":69,"NED":13.96},{"Frame":69,"NED":13.81},{"Frame":69,"NED":13.61},{"Frame":69,"NED":12.95},{"Frame":69,"NED":12.81},{"Frame":69,"NED":12.45},{"Frame":69,"NED":12.15},{"Frame":69,"NED":11.98},{"Frame":69,"NED":11.65},{"Frame":69,"NED":11.42},{"Frame":69,"NED":11.25},{"Frame":69,"NED":11.12},{"Frame":69,"NED":10.72},{"Frame":69,"NED":10.52},{"Frame":69,"NED":9.76},{"Frame":69,"NED":8.76},
{"Frame":70,"NED":14.26},{"Frame":70,"NED":13.78},{"Frame":70,"NED":13.18},{"Frame":70,"NED":13.08},{"Frame":70,"NED":12.95},{"Frame":70,"NED":12.38},{"Frame":70,"NED":12.12},{"Frame":70,"NED":11.82},{"Frame":70,"NED":11.55},{"Frame":70,"NED":11.49},{"Frame":70,"NED":11.02},{"Frame":70,"NED":10.59},{"Frame":70,"NED":10.36},{"Frame":70,"NED":10.03},{"Frame":70,"NED":9.96},
{"Frame":71,"NED":13.41},{"Frame":71,"NED":12.83},{"Frame":71,"NED":12.38},{"Frame":71,"NED":12.22},{"Frame":71,"NED":12.12},{"Frame":71,"NED":11.45},{"Frame":71,"NED":11.35},{"Frame":71,"NED":11.29},{"Frame":71,"NED":9.96},{"Frame":71,"NED":9.83},{"Frame":71,"NED":9.63},{"Frame":71,"NED":9.43},{"Frame":71,"NED":9.33},{"Frame":71,"NED":8.17},
{"Frame":72,"NED":14.39},{"Frame":72,"NED":12.38},{"Frame":72,"NED":12.22},{"Frame":72,"NED":11.69},{"Frame":72,"NED":11.29},{"Frame":72,"NED":11.22},{"Frame":72,"NED":10.76},{"Frame":72,"NED":10.46},{"Frame":72,"NED":10.19},{"Frame":72,"NED":9.86},{"Frame":72,"NED":9.56},{"Frame":72,"NED":9.36},{"Frame":72,"NED":8.30},{"Frame":72,"NED":7.97},{"Frame":72,"NED":-3.19},{"Frame":72,"NED":-3.21},{"Frame":72,"NED":-3.50},
{"Frame":73,"NED":13.84},{"Frame":73,"NED":12.98},{"Frame":73,"NED":12.55},{"Frame":73,"NED":12.22},{"Frame":73,"NED":12.15},{"Frame":73,"NED":11.88},{"Frame":73,"NED":11.78},{"Frame":73,"NED":11.65},{"Frame":73,"NED":11.52},{"Frame":73,"NED":10.89},{"Frame":73,"NED":9.93},{"Frame":73,"NED":9.79},{"Frame":73,"NED":9.23},
{"Frame":74,"NED":13.15},{"Frame":74,"NED":12.61},{"Frame":74,"NED":12.55},{"Frame":74,"NED":11.62},{"Frame":74,"NED":11.29},{"Frame":74,"NED":11.19},{"Frame":74,"NED":11.09},{"Frame":74,"NED":10.82},{"Frame":74,"NED":10.66},{"Frame":74,"NED":10.29},{"Frame":74,"NED":10.22},{"Frame":74,"NED":9.43},{"Frame":74,"NED":9.13},
{"Frame":75,"NED":14.29},{"Frame":75,"NED":13.41},{"Frame":75,"NED":12.58},{"Frame":75,"NED":12.42},{"Frame":75,"NED":12.02},{"Frame":75,"NED":11.88},{"Frame":75,"NED":11.65},{"Frame":75,"NED":11.45},{"Frame":75,"NED":11.35},{"Frame":75,"NED":11.25},{"Frame":75,"NED":10.69},{"Frame":75,"NED":10.09},{"Frame":75,"NED":8.70},{"Frame":75,"NED":8.66},
{"Frame":76,"NED":14.21},{"Frame":76,"NED":14.14},{"Frame":76,"NED":13.82},{"Frame":76,"NED":12.55},{"Frame":76,"NED":12.45},{"Frame":76,"NED":12.08},{"Frame":76,"NED":11.98},{"Frame":76,"NED":11.88},{"Frame":76,"NED":11.82},{"Frame":76,"NED":11.75},{"Frame":76,"NED":11.45},{"Frame":76,"NED":11.22},{"Frame":76,"NED":10.86},{"Frame":76,"NED":10.69},{"Frame":76,"NED":10.42},{"Frame":76,"NED":8.53},
{"Frame":77,"NED":14.01},{"Frame":77,"NED":13.94},{"Frame":77,"NED":13.25},{"Frame":77,"NED":13.01},{"Frame":77,"NED":12.95},{"Frame":77,"NED":12.75},{"Frame":77,"NED":12.35},{"Frame":77,"NED":12.25},{"Frame":77,"NED":11.95},{"Frame":77,"NED":11.65},{"Frame":77,"NED":11.55},{"Frame":77,"NED":11.42},{"Frame":77,"NED":11.15},{"Frame":77,"NED":11.05},{"Frame":77,"NED":10.69},{"Frame":77,"NED":10.52},
{"Frame":78,"NED":14.14},{"Frame":78,"NED":13.78},{"Frame":78,"NED":13.55},{"Frame":78,"NED":13.48},{"Frame":78,"NED":12.91},{"Frame":78,"NED":12.35},{"Frame":78,"NED":12.25},{"Frame":78,"NED":11.88},{"Frame":78,"NED":11.78},{"Frame":78,"NED":11.52},{"Frame":78,"NED":11.45},{"Frame":78,"NED":11.29},{"Frame":78,"NED":11.19},{"Frame":78,"NED":11.12},{"Frame":78,"NED":9.53},{"Frame":78,"NED":9.33},{"Frame":78,"NED":8.17},
{"Frame":79,"NED":13.68},{"Frame":79,"NED":13.31},{"Frame":79,"NED":12.80},{"Frame":79,"NED":12.48},{"Frame":79,"NED":11.95},{"Frame":79,"NED":11.62},{"Frame":79,"NED":11.59},{"Frame":79,"NED":11.17},{"Frame":79,"NED":10.69},{"Frame":79,"NED":10.62},{"Frame":79,"NED":10.52},{"Frame":79,"NED":9.79},{"Frame":79,"NED":9.23},{"Frame":79,"NED":8.83},{"Frame":79,"NED":8.17},{"Frame":79,"NED":7.53},
{"Frame":80,"NED":13.71},{"Frame":80,"NED":13.58},{"Frame":80,"NED":13.38},{"Frame":80,"NED":12.58},{"Frame":80,"NED":12.55},{"Frame":80,"NED":12.02},{"Frame":80,"NED":11.49},{"Frame":80,"NED":10.59},{"Frame":80,"NED":10.39},{"Frame":80,"NED":9.99},{"Frame":80,"NED":9.56},{"Frame":80,"NED":9.03},{"Frame":80,"NED":8.40},{"Frame":80,"NED":8.23},
{"Frame":81,"NED":14.17},{"Frame":81,"NED":13.94},{"Frame":81,"NED":13.15},{"Frame":81,"NED":13.01},{"Frame":81,"NED":12.42},{"Frame":81,"NED":12.22},{"Frame":81,"NED":12.12},{"Frame":81,"NED":12.02},{"Frame":81,"NED":11.15},{"Frame":81,"NED":11.05},{"Frame":81,"NED":10.76},{"Frame":81,"NED":9.46},{"Frame":81,"NED":8.80},{"Frame":81,"NED":7.83},{"Frame":81,"NED":7.63},
{"Frame":82,"NED":13.28},{"Frame":82,"NED":13.21},{"Frame":82,"NED":12.98},{"Frame":82,"NED":12.95},{"Frame":82,"NED":12.71},{"Frame":82,"NED":12.51},{"Frame":82,"NED":11.42},{"Frame":82,"NED":11.29},{"Frame":82,"NED":11.19},{"Frame":82,"NED":10.69},{"Frame":82,"NED":10.56},{"Frame":82,"NED":10.29},{"Frame":82,"NED":10.09},{"Frame":82,"NED":9.93},{"Frame":82,"NED":9.76},{"Frame":82,"NED":9.36},{"Frame":82,"NED":8.93},
{"Frame":83,"NED":13.38},{"Frame":83,"NED":12.55},{"Frame":83,"NED":12.42},{"Frame":83,"NED":11.92},{"Frame":83,"NED":11.49},{"Frame":83,"NED":11.29},{"Frame":83,"NED":11.12},{"Frame":83,"NED":10.95},{"Frame":83,"NED":10.76},{"Frame":83,"NED":10.62},{"Frame":83,"NED":10.52},{"Frame":83,"NED":9.76},{"Frame":83,"NED":9.53},{"Frame":83,"NED":9.43},{"Frame":83,"NED":8.86},
{"Frame":84,"NED":12.71},{"Frame":84,"NED":12.65},{"Frame":84,"NED":11.69},{"Frame":84,"NED":11.45},{"Frame":84,"NED":11.42},{"Frame":84,"NED":10.99},{"Frame":84,"NED":10.92},{"Frame":84,"NED":10.82},{"Frame":84,"NED":10.76},{"Frame":84,"NED":10.29},{"Frame":84,"NED":10.19},{"Frame":84,"NED":10.09},{"Frame":84,"NED":9.96},{"Frame":84,"NED":9.83},{"Frame":84,"NED":8.90},{"Frame":84,"NED":-3.02},
{"Frame":85,"NED":13.94},{"Frame":85,"NED":13.84},{"Frame":85,"NED":12.88},{"Frame":85,"NED":12.22},{"Frame":85,"NED":12.15},{"Frame":85,"NED":12.08},{"Frame":85,"NED":12.02},{"Frame":85,"NED":11.59},{"Frame":85,"NED":11.52},{"Frame":85,"NED":11.12},{"Frame":85,"NED":10.62},{"Frame":85,"NED":10.56},{"Frame":85,"NED":9.93},{"Frame":85,"NED":9.79},{"Frame":85,"NED":9.49},{"Frame":85,"NED":8.80},{"Frame":85,"NED":-3.00},{"Frame":85,"NED":-3.07},{"Frame":85,"NED":-3.11},{"Frame":85,"NED":-3.52},{"Frame":85,"NED":-3.78},
{"Frame":86,"NED":13.91},{"Frame":86,"NED":13.78},{"Frame":86,"NED":13.48},{"Frame":86,"NED":13.21},{"Frame":86,"NED":12.71},{"Frame":86,"NED":11.65},{"Frame":86,"NED":11.59},{"Frame":86,"NED":11.25},{"Frame":86,"NED":10.76},{"Frame":86,"NED":10.72},{"Frame":86,"NED":9.69},{"Frame":86,"NED":8.93},{"Frame":86,"NED":-3.32},{"Frame":86,"NED":-3.39},{"Frame":86,"NED":-3.55},{"Frame":86,"NED":-3.65},{"Frame":86,"NED":-3.74},{"Frame":86,"NED":-3.84},
{"Frame":87,"NED":14.61},{"Frame":87,"NED":14.31},{"Frame":87,"NED":14.01},{"Frame":87,"NED":13.31},{"Frame":87,"NED":12.91},{"Frame":87,"NED":12.81},{"Frame":87,"NED":12.71},{"Frame":87,"NED":11.82},{"Frame":87,"NED":11.65},{"Frame":87,"NED":11.45},{"Frame":87,"NED":11.42},{"Frame":87,"NED":10.82},{"Frame":87,"NED":10.69},{"Frame":87,"NED":10.56},{"Frame":87,"NED":10.22},
{"Frame":88,"NED":14.61},{"Frame":88,"NED":14.57},{"Frame":88,"NED":14.04},{"Frame":88,"NED":13.98},{"Frame":88,"NED":13.64},{"Frame":88,"NED":13.35},{"Frame":88,"NED":12.98},{"Frame":88,"NED":12.48},{"Frame":88,"NED":12.41},{"Frame":88,"NED":12.02},{"Frame":88,"NED":11.65},{"Frame":88,"NED":11.59},{"Frame":88,"NED":11.49},{"Frame":88,"NED":10.95},{"Frame":88,"NED":10.49},{"Frame":88,"NED":8.73},
{"Frame":89,"NED":14.35},{"Frame":89,"NED":13.61},{"Frame":89,"NED":12.98},{"Frame":89,"NED":12.65},{"Frame":89,"NED":12.55},{"Frame":89,"NED":12.42},{"Frame":89,"NED":12.22},{"Frame":89,"NED":12.15},{"Frame":89,"NED":12.08},{"Frame":89,"NED":11.62},{"Frame":89,"NED":11.32},{"Frame":89,"NED":10.59},{"Frame":89,"NED":10.56},{"Frame":89,"NED":9.93},{"Frame":89,"NED":9.00},{"Frame":89,"NED":8.86},{"Frame":89,"NED":8.56},
{"Frame":90,"NED":13.58},{"Frame":90,"NED":13.21},{"Frame":90,"NED":13.01},{"Frame":90,"NED":12.95},{"Frame":90,"NED":12.91},{"Frame":90,"NED":12.45},{"Frame":90,"NED":12.08},{"Frame":90,"NED":11.55},{"Frame":90,"NED":11.42},{"Frame":90,"NED":11.32},{"Frame":90,"NED":11.22},{"Frame":90,"NED":11.12},{"Frame":90,"NED":11.02},{"Frame":90,"NED":10.92},{"Frame":90,"NED":10.49},{"Frame":90,"NED":9.23},{"Frame":90,"NED":8.56},
{"Frame":91,"NED":14.04},{"Frame":91,"NED":13.68},{"Frame":91,"NED":13.41},{"Frame":91,"NED":12.85},{"Frame":91,"NED":12.51},{"Frame":91,"NED":12.45},{"Frame":91,"NED":12.38},{"Frame":91,"NED":12.32},{"Frame":91,"NED":12.18},{"Frame":91,"NED":11.85},{"Frame":91,"NED":11.69},{"Frame":91,"NED":11.59},{"Frame":91,"NED":11.15},{"Frame":91,"NED":10.62},{"Frame":91,"NED":9.86},{"Frame":91,"NED":9.76},{"Frame":91,"NED":9.23},{"Frame":91,"NED":8.36},
{"Frame":92,"NED":13.49},{"Frame":92,"NED":13.21},{"Frame":92,"NED":13.11},{"Frame":92,"NED":12.98},{"Frame":92,"NED":12.71},{"Frame":92,"NED":12.51},{"Frame":92,"NED":12.42},{"Frame":92,"NED":11.98},{"Frame":92,"NED":11.75},{"Frame":92,"NED":11.52},{"Frame":92,"NED":11.22},{"Frame":92,"NED":11.15},{"Frame":92,"NED":11.05},{"Frame":92,"NED":10.86},{"Frame":92,"NED":10.52},{"Frame":92,"NED":10.06},{"Frame":92,"NED":9.49},
{"Frame":93,"NED":14.39},{"Frame":93,"NED":13.64},{"Frame":93,"NED":13.48},{"Frame":93,"NED":13.35},{"Frame":93,"NED":13.25},{"Frame":93,"NED":13.11},{"Frame":93,"NED":12.91},{"Frame":93,"NED":12.45},{"Frame":93,"NED":12.35},{"Frame":93,"NED":12.28},{"Frame":93,"NED":11.98},{"Frame":93,"NED":11.29},{"Frame":93,"NED":11.19},{"Frame":93,"NED":10.95},{"Frame":93,"NED":10.12},{"Frame":93,"NED":9.59},{"Frame":93,"NED":9.43},
{"Frame":94,"NED":14.24},{"Frame":94,"NED":13.29},{"Frame":94,"NED":12.42},{"Frame":94,"NED":11.92},{"Frame":94,"NED":11.82},{"Frame":94,"NED":11.75},{"Frame":94,"NED":11.59},{"Frame":94,"NED":11.45},{"Frame":94,"NED":11.32},{"Frame":94,"NED":11.22},{"Frame":94,"NED":11.09},{"Frame":94,"NED":10.95},{"Frame":94,"NED":10.82},{"Frame":94,"NED":10.66},{"Frame":94,"NED":9.53},{"Frame":94,"NED":9.39},
{"Frame":95,"NED":12.93},{"Frame":95,"NED":12.55},{"Frame":95,"NED":12.42},{"Frame":95,"NED":12.28},{"Frame":95,"NED":12.18},{"Frame":95,"NED":11.95},{"Frame":95,"NED":11.82},{"Frame":95,"NED":11.65},{"Frame":95,"NED":11.49},{"Frame":95,"NED":11.42},{"Frame":95,"NED":11.05},{"Frame":95,"NED":10.66},{"Frame":95,"NED":10.59},{"Frame":95,"NED":9.93},
{"Frame":96,"NED":13.61},{"Frame":96,"NED":13.55},{"Frame":96,"NED":13.31},{"Frame":96,"NED":13.21},{"Frame":96,"NED":12.71},{"Frame":96,"NED":12.55},{"Frame":96,"NED":12.35},{"Frame":96,"NED":12.02},{"Frame":96,"NED":11.69},{"Frame":96,"NED":11.12},{"Frame":96,"NED":10.69},{"Frame":96,"NED":10.26},{"Frame":96,"NED":9.73},
{"Frame":97,"NED":14.28},{"Frame":97,"NED":13.73},{"Frame":97,"NED":13.48},{"Frame":97,"NED":13.28},{"Frame":97,"NED":12.81},{"Frame":97,"NED":12.42},{"Frame":97,"NED":12.18},{"Frame":97,"NED":12.12},{"Frame":97,"NED":12.05},{"Frame":97,"NED":11.95},{"Frame":97,"NED":11.85},{"Frame":97,"NED":11.52},{"Frame":97,"NED":11.32},{"Frame":97,"NED":10.28},{"Frame":97,"NED":10.26},
{"Frame":98,"NED":14.22},{"Frame":98,"NED":13.35},{"Frame":98,"NED":13.21},{"Frame":98,"NED":12.71},{"Frame":98,"NED":12.48},{"Frame":98,"NED":12.35},{"Frame":98,"NED":12.22},{"Frame":98,"NED":12.08},{"Frame":98,"NED":11.95},{"Frame":98,"NED":11.82},{"Frame":98,"NED":11.65},{"Frame":98,"NED":11.52},{"Frame":98,"NED":11.22},{"Frame":98,"NED":10.66},
{"Frame":99,"NED":14.55},{"Frame":99,"NED":13.71},{"Frame":99,"NED":13.01},{"Frame":99,"NED":12.91}
]
},
"layer":[
{"data":{"values":[{}]},
 "mark":{"type":"rect","fill":null,"fillOpacity":0,"stroke":"black","strokeWidth":3},
 "encoding":{"x":{"datum":-13.22,"type":"quantitative","axis":null},"x2":{"datum":108.94},"y":{"datum":18.45,"type":"quantitative"},"y2":{"datum":-8.12}}},
{"data":{"name":"boxes"},
 "mark":{"type":"rule","color":"black","strokeWidth":2.2,"strokeDash":[7,7]},
 "encoding":{
  "x":{"field":"Frame","type":"quantitative","scale":{"domain":[-3.46,103.46],"nice":false,"zero":false},
   "axis":{"orient":"bottom","title":"Frame","values":[1,2,3,4,5,6,7,8,9,10,11,12,13,14,15,16,17,18,19,20,21,22,23,24,25,26,27,28,29,30,31,32,33,34,35,36,37,38,39,40,41,42,43,44,45,46,47,48,49,50,51,52,53,54,55,56,57,58,59,60,61,62,63,64,65,66,67,68,69,70,71,72,73,74,75,76,77,78,79,80,81,82,83,84,85,86,87,88,89,90,91,92,93,94,95,96,97,98,99],
    "labels":false,"grid":false,"domain":false,"tickSize":21,"tickWidth":2.2,"tickColor":"black",
    "titleFontSize":35,"titleFontWeight":"normal","titleColor":"black","titlePadding":113}},
  "y":{"field":"lo","type":"quantitative","scale":{"domain":[-4.55,15.506],"nice":false,"zero":false},
   "axis":{"title":"NED","values":[0,5,10,15],"format":"d","labelAngle":270,"labelAlign":"center","labelBaseline":"bottom","grid":false,"domain":false,"tickSize":21,"tickWidth":2.2,"tickColor":"black",
    "labelFontSize":28,"labelColor":"black","labelPadding":22,"titleFontSize":35,"titleFontWeight":"normal","titleColor":"black","titlePadding":40}},
  "y2":{"field":"hi"}}},
{"data":{"name":"boxes"},
 "mark":{"type":"tick","orient":"horizontal","color":"black","size":8,"thickness":2.2},
 "encoding":{"x":{"field":"Frame","type":"quantitative",
   "axis":{"orient":"bottom","title":null,"values":[1,4,7,10,14,18,22,26,30,34,38,42,46,50,54,58,62,66,70,74,78,82,86,90,94,98],
    "grid":false,"domain":false,"tickSize":21,"tickOpacity":0,"labelOverlap":false,"labelFlush":false,
    "labelFontSize":28,"labelColor":"black","labelPadding":32}},
  "y":{"field":"lo","type":"quantitative"}}},
{"data":{"name":"boxes"},
 "mark":{"type":"tick","orient":"horizontal","color":"black","size":8,"thickness":2.2},
 "encoding":{"x":{"field":"Frame","type":"quantitative","axis":null},"y":{"field":"hi","type":"quantitative"}}},
{"data":{"name":"boxes"},
 "mark":{"type":"bar","width":16.5,"fill":"white","stroke":"black","strokeWidth":2.5},
 "encoding":{"x":{"field":"Frame","type":"quantitative","axis":null},"y":{"field":"q1","type":"quantitative"},"y2":{"field":"q3"}}},
{"data":{"name":"boxes"},
 "mark":{"type":"tick","orient":"horizontal","color":"black","size":16.5,"thickness":6},
 "encoding":{"x":{"field":"Frame","type":"quantitative","axis":null},"y":{"field":"med","type":"quantitative"}}},
{"data":{"name":"outliers"},
 "mark":{"type":"point","shape":"circle","filled":false,"color":"black","size":210,"strokeWidth":2.4},
 "encoding":{"x":{"field":"Frame","type":"quantitative","axis":null},"y":{"field":"NED","type":"quantitative"}}}
]
}
